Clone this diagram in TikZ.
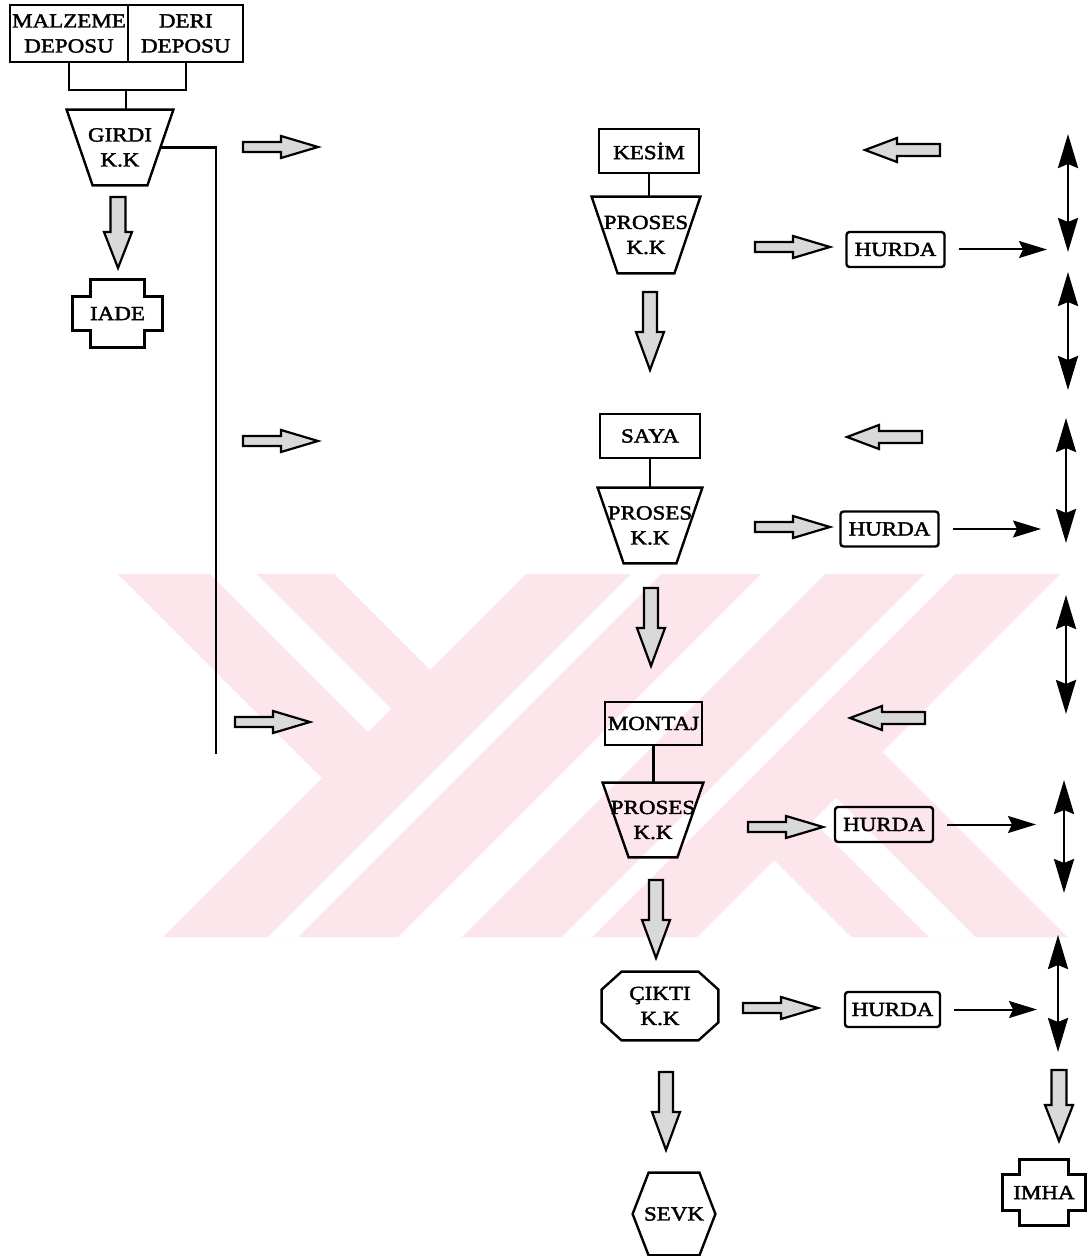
\documentclass[tikz,border=0pt]{standalone}
\usepackage{fontspec}
\setmainfont[FakeStretch=1.15,FakeBold=2]{Liberation Serif}
\usetikzlibrary{calc,arrows.meta}
\definecolor{wm}{RGB}{252,230,235}
\newcommand\lbl{\fontsize{10pt}{12.5pt}\selectfont}
\newcommand\trapez[2]{%
  \coordinate (#1-se) at ($(#1.south east)+(-#2,0)$);
  \coordinate (#1-sw) at ($(#1.south west)+(#2,0)$);
  \draw[shp] (#1.north west) -- (#1.north east) -- (#1-se) -- (#1-sw) -- cycle;}
\newcommand\plusbox[3]{%
  \draw[shp] ($(#1.north west)+(#2,0)$) -- ($(#1.north east)+(-#2,0)$) -- ($(#1.north east)+(-#2,#3)$) -- ($(#1.north east)+(0,#3)$) -- ($(#1.south east)+(0,-#3)$) -- ($(#1.south east)+(-#2,-#3)$) -- ($(#1.south east)+(-#2,0)$) -- ($(#1.south west)+(#2,0)$) -- ($(#1.south west)+(#2,-#3)$) -- ($(#1.south west)+(0,-#3)$) -- ($(#1.north west)+(0,#3)$) -- ($(#1.north west)+(#2,#3)$) -- cycle;}
\tikzset{
  ln/.style={line width=1.1pt},
  box/.style={draw, line width=1.2pt, inner sep=0pt, font=\lbl, align=center},
  lab/.style={inner sep=0pt, font=\lbl, align=center},
  hurda/.style={box, rounded corners=1.5pt, minimum width=49pt, minimum height=17.5pt},
  shp/.style={draw, line width=1.2pt, line join=miter},
  blk/.style={draw, line width=1.1pt, fill=gray!30, line join=miter},
  thin/.style={line width=1pt, -{Stealth[length=14pt,width=8.5pt,inset=2pt]}},
  dbl/.style={line width=1.4pt, {Stealth[length=17pt,width=10pt,inset=2pt]}-{Stealth[length=17pt,width=10pt,inset=2pt]}},
  rblk/.pic={\draw[blk] (0,-5) -- (38,-5) -- (38,-11) -- (75,0) -- (38,11) -- (38,5) -- (0,5) -- cycle;},
  lblk/.pic={\draw[blk] (0,0) -- (32,-12) -- (32,-6) -- (75,-6) -- (75,6) -- (32,6) -- (32,12) -- cycle;},
  dblk/.pic={\draw[blk] (-7,0) -- (7,0) -- (7,40) -- (14,40) -- (0,78) -- (-14,40) -- (-7,40) -- cycle;},
  dblks/.pic={\draw[blk] (-7.5,0) -- (7.5,0) -- (7.5,35) -- (14,35) -- (0,71) -- (-14,35) -- (-7.5,35) -- cycle;},
}
\begin{document}
\begin{tikzpicture}[x=0.5pt,y=-0.5pt]
\useasboundingbox (0,0) rectangle (1088,1256);
\fill[white] (0,0) rectangle (1088,1256);
% watermark
\fill[wm] (118,574) -- (334,574) -- (430,670) -- (322,778) -- cycle;
\fill[wm] (526,574) -- (761,574) -- (398,937) -- (163,937) -- cycle;
\fill[wm] (774,860) -- (882,752) -- (1067,937) -- (851,937) -- cycle;
\fill[wm] (825,574) -- (1060,574) -- (697,937) -- (462,937) -- cycle;
\fill[white] (210,574) -- (256,574) -- (391,709) -- (368,732) -- cycle;
\fill[white] (631,574) -- (661,574) -- (298,937) -- (268,937) -- cycle;
\fill[white] (813,821) -- (836,798) -- (975,937) -- (929,937) -- cycle;
\fill[white] (925,574) -- (955,574) -- (592,937) -- (562,937) -- cycle;

% left part
\node[box, minimum width=59pt, minimum height=28.5pt] (malz) at (69,33.5) {MALZEME\\DEPOSU};
\node[box, minimum width=57.5pt, minimum height=28.5pt] (deri) at (185.75,33.5) {DERI\\DEPOSU};
\draw[ln] (malz.south) -- ++(0,27) -| (deri.south);
\coordinate (jn) at (126,89);
\node[lab, minimum width=53pt, minimum height=37.5pt] (girdi) at (120,147.5) {GIRDI\\K.K};
\trapez{girdi}{26}
\draw[ln] (jn) -- (jn |- girdi.north);
\coordinate (gbot) at (216,754);
\draw[ln] ($(girdi.north east)!0.5!(girdi-se)$) -| (gbot);
\pic at (118,197) {dblks};
\node[lab, minimum width=44.5pt, minimum height=33.5pt] (iade) at (117.5,313.5) {IADE};
\plusbox{iade}{18}{17}
\pic at (243,147) {rblk};
\pic at (243,441) {rblk};
\pic at (235,722) {rblk};

% centre column
\node[box, minimum width=50pt, minimum height=22pt] (kesim) at (649,151) {KESİM};
\node[lab, minimum width=54pt, minimum height=38pt] (p1) at (646,235) {PROSES\\K.K};
\trapez{p1}{26}
\draw[ln] (kesim.south) -- (kesim.south |- p1.north);
\pic at (650,292) {dblk};
\node[box, minimum width=50pt, minimum height=22pt] (saya) at (650,436) {SAYA};
\node[lab, minimum width=52pt, minimum height=37.5pt] (p2) at (650,525.5) {PROSES\\K.K};
\trapez{p2}{26}
\draw[ln] (saya.south) -- (saya.south |- p2.north);
\pic at (651,588) {dblk};
\node[box, minimum width=48.5pt, minimum height=21.5pt] (montaj) at (653.5,723.5) {MONTAJ};
\node[lab, minimum width=50pt, minimum height=37pt] (p3) at (653,820) {PROSES\\K.K};
\trapez{p3}{26}
\draw[ln] (montaj.south) -- (montaj.south |- p3.north);
\pic at (656,880) {dblk};
\node[lab, minimum width=58pt, minimum height=34pt] (cikti) at (660,1006) {ÇIKTI\\K.K};
\draw[shp] ($(cikti.north west)+(20,0)$) -- ($(cikti.north east)+(-20,0)$) -- ($(cikti.north east)+(0,18)$) -- ($(cikti.south east)+(0,-18)$) -- ($(cikti.south east)+(-20,0)$) -- ($(cikti.south west)+(20,0)$) -- ($(cikti.south west)+(0,-18)$) -- ($(cikti.north west)+(0,18)$) -- cycle;
\pic at (666,1072) {dblk};
\node[lab, minimum width=41pt, minimum height=41pt] (sevk) at (674,1214) {SEVK};
\draw[shp] ($(sevk.north west)+(16,0)$) -- ($(sevk.north east)+(-16,0)$) -- (sevk.east) -- ($(sevk.south east)+(-16,0)$) -- ($(sevk.south west)+(16,0)$) -- (sevk.west) -- cycle;

% right part
\pic at (865,150) {lblk};
\pic at (847,437) {lblk};
\pic at (850,718) {lblk};
\pic at (755,247) {rblk};
\pic at (755,527) {rblk};
\pic at (748,827) {rblk};
\pic at (743,1008) {rblk};
\node[hurda] (h1) at (895.5,249.5) {HURDA};
\node[hurda] (h2) at (889.5,529) {HURDA};
\node[hurda] (h3) at (884,824.5) {HURDA};
\node[hurda, minimum width=47.5pt] (h4) at (892.5,1009.5) {HURDA};
\coordinate (t1) at (1047,249.5);
\coordinate (t2) at (1041,529);
\coordinate (t3) at (1036,824.5);
\coordinate (t4) at (1037,1009.5);
\draw[thin] ($(h1.east)+(13,0)$) -- (t1);
\draw[thin] ($(h2.east)+(13,0)$) -- (t2);
\draw[thin] ($(h3.east)+(13,0)$) -- (t3);
\draw[thin] ($(h4.east)+(13,0)$) -- (t4);
\coordinate (d1a) at (1068,134);  \coordinate (d1b) at (1068,252);
\coordinate (d2a) at (1068,272);  \coordinate (d2b) at (1068,390);
\coordinate (d3a) at (1066,418);  \coordinate (d3b) at (1066,543);
\coordinate (d4a) at (1066,595);  \coordinate (d4b) at (1066,714);
\coordinate (d5a) at (1064,780);  \coordinate (d5b) at (1064,893);
\coordinate (d6a) at (1058,935);  \coordinate (d6b) at (1058,1052);
\draw[dbl] (d1a) -- (d1b);
\draw[dbl] (d2a) -- (d2b);
\draw[dbl] (d3a) -- (d3b);
\draw[dbl] (d4a) -- (d4b);
\draw[dbl] (d5a) -- (d5b);
\draw[dbl] (d6a) -- (d6b);
\pic at (1059,1070) {dblks};
\node[lab, minimum width=41pt, minimum height=32.5pt] (imha) at (1044,1192.5) {IMHA};
\plusbox{imha}{17}{15}
\end{tikzpicture}
\end{document}
